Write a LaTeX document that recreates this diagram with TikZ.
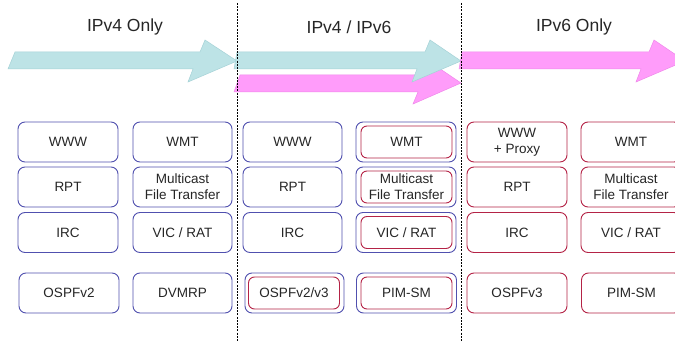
\documentclass[tikz,border=0pt]{standalone}
\usepackage{fontspec}
\setmainfont{Liberation Sans}
\definecolor{cyanA}{RGB}{189,227,230}
\definecolor{cyanE}{RGB}{165,210,215}
\definecolor{pinkA}{RGB}{255,156,250}
\definecolor{pinkE}{RGB}{240,135,235}
\definecolor{boxblue}{RGB}{80,80,175}
\definecolor{boxred}{RGB}{180,35,70}
\begin{document}
\begin{tikzpicture}[x=1pt,y=-1pt,
  bbox/.style={draw=boxblue, line width=0.9pt, rounded corners=7pt, minimum width=100pt, minimum height=40pt, inner sep=0pt, align=center, font=\fontsize{13.5}{16}\selectfont, text=black!85},
  rbox/.style={bbox, draw=boxred},
  ibox/.style={rbox, minimum width=91pt, minimum height=32pt, rounded corners=6pt},
  ttl/.style={font=\fontsize{17.5}{20}\selectfont, text=black!85},
  cyanarrow/.style={fill=cyanA, draw=cyanE, line width=0.5pt},
  pinkarrow/.style={fill=pinkA, draw=pinkE, line width=0.5pt},
  sep/.style={draw=black, line width=0.9pt, dash pattern=on 2pt off 1.2pt}]
\clip (0,0) rectangle (675,342);
\fill[white] (0,0) rectangle (675,342);

% titles
\node[ttl] (t1) at (125,27) {IPv4 Only};
\node[ttl] (t2) at (349,27) {IPv4 / IPv6};
\node[ttl] (t3) at (574,27) {IPv6 Only};

% arrows
\filldraw[pinkarrow] (240,75) -- (425,75) -- (430,62) -- (461,83) -- (413,104) -- (418,92) -- (234,92) -- cycle;
\filldraw[cyanarrow] (15,52) -- (200,52) -- (205,40) -- (237,61) -- (188,82) -- (193,69) -- (8,69) -- cycle;
\filldraw[cyanarrow] (237,52) -- (425,52) -- (430,40) -- (461,61) -- (412,82) -- (417,69) -- (234,69) -- cycle;
\filldraw[pinkarrow] (462,52) -- (649,52) -- (654,40) -- (685,61) -- (636,82) -- (641,69) -- (459,69) -- cycle;

% separators
\coordinate (s1a) at (237,3);
\coordinate (s1b) at (237,342);
\coordinate (s2a) at (461,3);
\coordinate (s2b) at (461,342);
\draw[sep] (s1a) -- (s1b);
\draw[sep] (s2a) -- (s2b);

% column 1
\node[bbox] (a1) at (68,142) {WWW};
\node[bbox] (a2) at (68,187) {RPT};
\node[bbox] (a3) at (68,232.5) {IRC};
\node[bbox] (a4) at (69,293) {OSPFv2};
% column 2
\node[bbox, minimum width=99pt] (b1) at (182.5,142) {WMT};
\node[bbox, minimum width=99pt] (b2) at (182.5,187) {Multicast\\File Transfer};
\node[bbox, minimum width=99pt] (b3) at (182.5,232.5) {VIC / RAT};
\node[bbox, minimum width=99pt] (b4) at (182.5,293) {DVMRP};
% column 3
\node[bbox, minimum width=99pt] (c1) at (292.5,142) {WWW};
\node[bbox, minimum width=99pt] (c2) at (292.5,187) {RPT};
\node[bbox, minimum width=99pt] (c3) at (292.5,232.5) {IRC};
\node[bbox, minimum width=99pt] (c4o) at (294.5,293) {};
\node[ibox] (c4) at (294,293) {OSPFv2/v3};
% column 4
\node[bbox] (d1o) at (406,142) {};
\node[ibox] (d1) at (406.5,142) {WMT};
\node[bbox] (d2o) at (406,187) {};
\node[ibox] (d2) at (406.5,187) {Multicast\\File Transfer};
\node[bbox] (d3o) at (406,232.5) {};
\node[ibox] (d3) at (406.5,232.5) {VIC / RAT};
\node[bbox] (d4o) at (406.5,293) {};
\node[ibox] (d4) at (406.5,293) {PIM-SM};
% column 5
\node[rbox] (e1) at (517,142) {WWW\\+ Proxy};
\node[rbox] (e2) at (517,187) {RPT};
\node[rbox] (e3) at (517,232.5) {IRC};
\node[rbox] (e4) at (517,293) {OSPFv3};
% column 6
\node[rbox] (f1) at (631,142) {WMT};
\node[rbox] (f2) at (631,187) {Multicast\\File Transfer};
\node[rbox] (f3) at (631,232.5) {VIC / RAT};
\node[rbox] (f4) at (631.5,293) {PIM-SM};
\end{tikzpicture}
\end{document}
